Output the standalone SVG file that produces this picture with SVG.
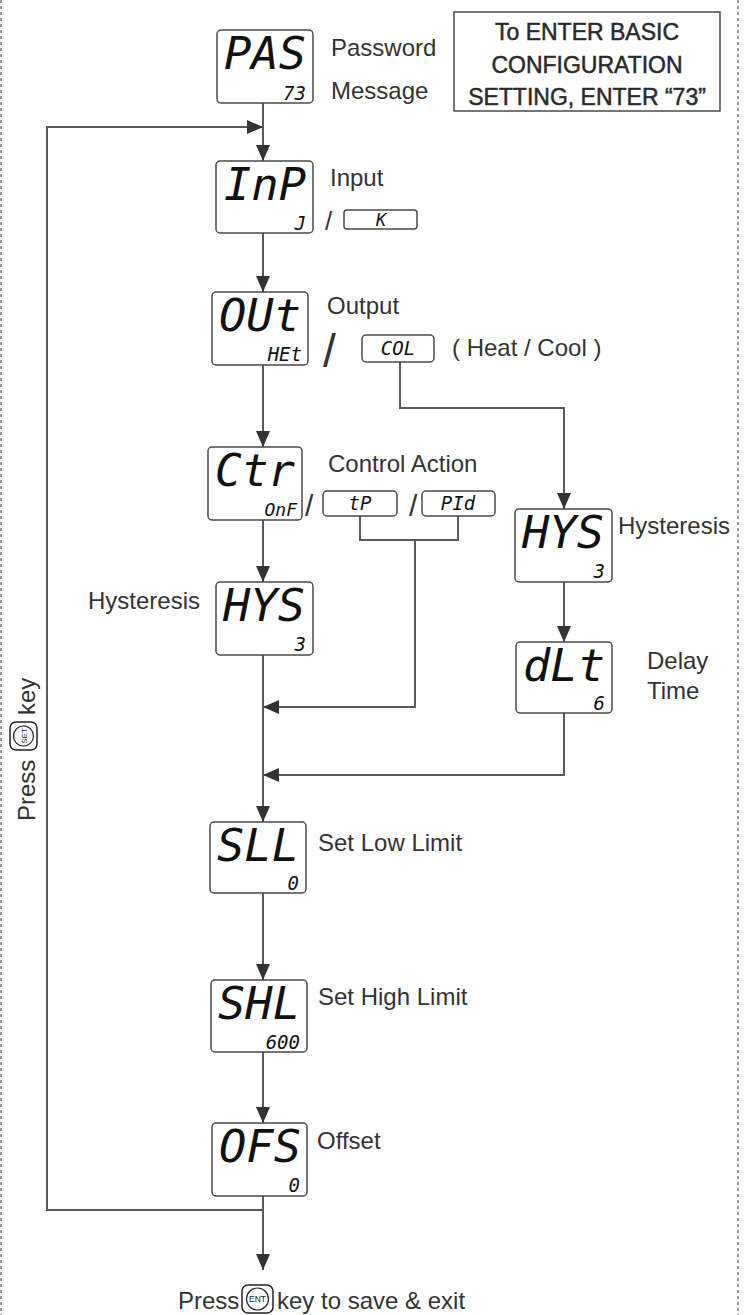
<svg xmlns="http://www.w3.org/2000/svg" width="753" height="1315" viewBox="0 0 753 1315">
<style>
.bx{fill:#fff;stroke:#4a4a4a;stroke-width:1.5}
.sb{fill:#fff;stroke:#4a4a4a;stroke-width:1.5}
.lcd{font-family:"DejaVu Sans Mono",monospace;font-style:oblique;fill:#111;font-size:44px}
.lcs{font-family:"DejaVu Sans Mono",monospace;font-style:oblique;fill:#111;font-size:19px}
.lbl{font-family:"Liberation Sans",Arial,sans-serif;font-size:24px;fill:#333}
.hd{font-family:"Liberation Sans",Arial,sans-serif;font-size:23px;fill:#2a2a2a;stroke:#2a2a2a;stroke-width:0.5;text-anchor:middle}
.cn{fill:none;stroke:#5a5a5a;stroke-width:2}
.dot{stroke:#999;stroke-width:2;stroke-dasharray:3 3}
</style>
<defs>
<marker id="ar" markerUnits="userSpaceOnUse" markerWidth="16" markerHeight="16" viewBox="0 0 16 16" refX="16" refY="8" orient="auto">
<path d="M0,1 L16,8 L0,15 Z" fill="#333"/>
</marker>
</defs>
<rect width="753" height="1315" fill="#fff"/>
<line class="dot" x1="1" y1="0" x2="1" y2="1315"/>
<line class="dot" x1="738" y1="0" x2="738" y2="1315"/>

<g id="connectors">
<line class="cn" x1="263" y1="103" x2="263" y2="161" marker-end="url(#ar)"/>
<polyline class="cn" points="263,1210 47,1210 47,127 263,127" marker-end="url(#ar)"/>
<line class="cn" x1="263" y1="233" x2="263" y2="292" marker-end="url(#ar)"/>
<line class="cn" x1="263" y1="365" x2="263" y2="447" marker-end="url(#ar)"/>
<polyline class="cn" points="400,362 400,408 564,408 564,509" marker-end="url(#ar)"/>
<line class="cn" x1="263" y1="520" x2="263" y2="582" marker-end="url(#ar)"/>
<polyline class="cn" points="360,516 360,540 458,540 458,516"/>
<polyline class="cn" points="415,540 415,707 263,707" marker-end="url(#ar)"/>
<line class="cn" x1="263" y1="655" x2="263" y2="822" marker-end="url(#ar)"/>
<line class="cn" x1="564" y1="582" x2="564" y2="642" marker-end="url(#ar)"/>
<polyline class="cn" points="564,713 564,775 263,775" marker-end="url(#ar)"/>
<line class="cn" x1="263" y1="893" x2="263" y2="980" marker-end="url(#ar)"/>
<line class="cn" x1="263" y1="1052" x2="263" y2="1123" marker-end="url(#ar)"/>
<line class="cn" x1="263" y1="1196" x2="263" y2="1270" marker-end="url(#ar)"/>
</g>

<g id="note">
<rect x="454" y="12" width="266" height="99" fill="#fff" stroke="#4a4a4a" stroke-width="1.5"/>
<text class="hd" x="587" y="40">To ENTER BASIC</text>
<text class="hd" x="587" y="73">CONFIGURATION</text>
<text class="hd" x="587" y="105">SETTING, ENTER “73”</text>
</g>

<g id="n-pas">
<rect class="bx" x="217" y="30" width="96" height="73" rx="4"/>
<text class="lcd" x="224" y="69" textLength="82" lengthAdjust="spacingAndGlyphs">PAS</text>
<text class="lcs" x="306" y="100" text-anchor="end">73</text>
<text class="lbl" x="331" y="56">Password</text>
<text class="lbl" x="331" y="99">Message</text>
</g>

<g id="n-inp">
<rect class="bx" x="216" y="161" width="97" height="72" rx="4"/>
<text class="lcd" x="224" y="200" textLength="82" lengthAdjust="spacingAndGlyphs">InP</text>
<text class="lcs" x="306" y="230" text-anchor="end">J</text>
<text class="lbl" x="330" y="186">Input</text>
<text class="lbl" x="325" y="230" style="font-size:26px">/</text>
<rect class="sb" x="344" y="210" width="73" height="19" rx="3"/>
<text class="lcs" x="381" y="226" text-anchor="middle" style="font-size:17px">K</text>
</g>

<g id="n-out">
<rect class="bx" x="212" y="292" width="96" height="73" rx="4"/>
<text class="lcd" x="219" y="331" textLength="82" lengthAdjust="spacingAndGlyphs">OUt</text>
<text class="lcs" x="302" y="361" text-anchor="end">HEt</text>
<text class="lbl" x="327" y="314">Output</text>
<text class="lbl" x="323" y="367" style="font-size:46px">/</text>
<rect class="sb" x="362" y="335" width="72" height="27" rx="4"/>
<text class="lcs" x="398" y="355" text-anchor="middle">COL</text>
<text class="lbl" x="452" y="356">( Heat / Cool )</text>
</g>

<g id="n-ctr">
<rect class="bx" x="208" y="447" width="94" height="73" rx="4"/>
<text class="lcd" x="215" y="486" textLength="80" lengthAdjust="spacingAndGlyphs">Ctr</text>
<text class="lcs" x="297" y="516" text-anchor="end" style="font-size:18px">OnF</text>
<text class="lbl" x="328" y="472">Control Action</text>
<text class="lbl" x="305" y="516" style="font-size:30px">/</text>
<rect class="sb" x="323" y="491" width="74" height="25" rx="4"/>
<text class="lcs" x="360" y="510" text-anchor="middle">tP</text>
<text class="lbl" x="409" y="516" style="font-size:30px">/</text>
<rect class="sb" x="422" y="491" width="73" height="25" rx="4"/>
<text class="lcs" x="458" y="510" text-anchor="middle">PId</text>
</g>

<g id="n-hys1">
<rect class="bx" x="216" y="582" width="97" height="73" rx="4"/>
<text class="lcd" x="223" y="621" textLength="82" lengthAdjust="spacingAndGlyphs">HYS</text>
<text class="lcs" x="306" y="651" text-anchor="end">3</text>
<text class="lbl" x="88" y="609">Hysteresis</text>
</g>

<g id="n-hys2">
<rect class="bx" x="515" y="509" width="97" height="73" rx="4"/>
<text class="lcd" x="522" y="548" textLength="82" lengthAdjust="spacingAndGlyphs">HYS</text>
<text class="lcs" x="605" y="578" text-anchor="end">3</text>
<text class="lbl" x="618" y="534">Hysteresis</text>
</g>

<g id="n-dlt">
<rect class="bx" x="516" y="642" width="96" height="71" rx="4"/>
<text class="lcd" x="523" y="681" textLength="82" lengthAdjust="spacingAndGlyphs">dLt</text>
<text class="lcs" x="605" y="710" text-anchor="end">6</text>
<text class="lbl" x="647" y="669">Delay</text>
<text class="lbl" x="647" y="699">Time</text>
</g>

<g id="n-sll">
<rect class="bx" x="210" y="822" width="96" height="71" rx="4"/>
<text class="lcd" x="217" y="861" textLength="82" lengthAdjust="spacingAndGlyphs">SLL</text>
<text class="lcs" x="299" y="890" text-anchor="end">0</text>
<text class="lbl" x="318" y="851">Set Low Limit</text>
</g>

<g id="n-shl">
<rect class="bx" x="211" y="980" width="96" height="72" rx="4"/>
<text class="lcd" x="218" y="1019" textLength="82" lengthAdjust="spacingAndGlyphs">SHL</text>
<text class="lcs" x="300" y="1049" text-anchor="end">600</text>
<text class="lbl" x="318" y="1005">Set High Limit</text>
</g>

<g id="n-ofs">
<rect class="bx" x="212" y="1123" width="95" height="73" rx="4"/>
<text class="lcd" x="219" y="1162" textLength="82" lengthAdjust="spacingAndGlyphs">OFS</text>
<text class="lcs" x="300" y="1192" text-anchor="end">0</text>
<text class="lbl" x="317" y="1149">Offset</text>
</g>

<g id="press-set">
<text class="lbl" transform="translate(35,821) rotate(-90)">Press</text>
<rect x="10" y="722" width="27" height="28" rx="6" fill="#fff" stroke="#222" stroke-width="1.5"/>
<circle cx="23.5" cy="736" r="10" fill="none" stroke="#222" stroke-width="1.2"/>
<text transform="translate(27,736) rotate(-90)" text-anchor="middle" font-family="Liberation Sans,Arial,sans-serif" font-size="8" fill="#222">SET</text>
<text class="lbl" transform="translate(35,715) rotate(-90)">key</text>
</g>

<g id="press-ent">
<text class="lbl" x="178" y="1309">Press</text>
<rect x="242" y="1285" width="31" height="28" rx="6" fill="#fff" stroke="#222" stroke-width="1.5"/>
<circle cx="257.5" cy="1299" r="11" fill="none" stroke="#222" stroke-width="1.2"/>
<text x="257.5" y="1302" text-anchor="middle" font-family="Liberation Sans,Arial,sans-serif" font-size="8.5" fill="#222">ENT</text>
<text class="lbl" x="277" y="1309">key to save &amp; exit</text>
</g>
</svg>
